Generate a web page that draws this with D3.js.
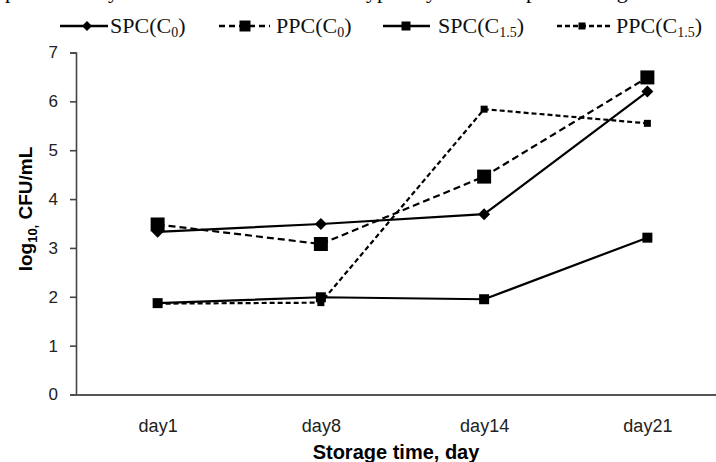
<!DOCTYPE html>
<html>
<head>
<meta charset="utf-8">
<script src="https://cdn.jsdelivr.net/npm/d3@7"></script>
<style>
  html, body { margin: 0; padding: 0; background: #fff; overflow: hidden; }
  svg { display: block; }
</style>
</head>
<body>
<div id="chart"></div>
<script>
// données
const days = ["day1", "day8", "day14", "day21"];
const spcC0 = [3.33, 3.49, 3.69, 6.20];
const ppcC0 = [3.48, 3.08, 4.46, 6.49];
const spcC15 = [1.87, 1.99, 1.95, 3.21];
const ppcC15 = [1.86, 1.88, 5.84, 5.55];
const yTicks = [0, 1, 2, 3, 4, 5, 6, 7];

// fragments du texte coupé au-dessus de la figure
const topWords = [["up", -6], ["by", 97], ["typically", 360], ["upon", 515], ["using", 580]];

const width = 716, height = 462;
const svg = d3.select("#chart").append("svg")
    .attr("width", width)
    .attr("height", height);

// texte du paragraphe (seules les descendantes sont visibles)
svg.append("g").selectAll("text")
    .data(topWords)
    .join("text")
    .attr("x", d => d[1])
    .attr("y", -2.5)
    .style("font-family", "'Liberation Serif', 'Times New Roman', serif")
    .style("font-size", "22px")
    .text(d => d[0]);

// échelles
const x = d3.scalePoint().domain(days).range([76, 729]).padding(0.5);
const y = d3.scaleLinear().domain([0, 7]).range([394.5, 52.5]);

// axe Y
const yAxis = svg.append("g")
    .attr("transform", "translate(76,0)")
    .call(d3.axisLeft(y).tickValues(yTicks).tickSize(6).tickPadding(12).tickFormat(d3.format("d")));
yAxis.selectAll("path, line").attr("stroke", "#444").attr("stroke-width", 1.6);
yAxis.selectAll("text")
    .style("font-family", "'Liberation Sans', Arial, sans-serif")
    .style("font-size", "17px")
    .attr("fill", "#222");

// axe X
const xAxis = svg.append("g")
    .attr("transform", "translate(0,394.5)")
    .call(d3.axisBottom(x).tickSize(0).tickSizeOuter(0).tickPadding(25));
xAxis.select("path").attr("stroke", "#555").attr("stroke-width", 2);
xAxis.selectAll("text")
    .style("font-family", "'Liberation Sans', Arial, sans-serif")
    .style("font-size", "18px")
    .attr("fill", "#222");

// titres des axes
svg.append("text")
    .attr("x", 396)
    .attr("y", 459)
    .attr("text-anchor", "middle")
    .style("font-family", "'Liberation Sans', Arial, sans-serif")
    .style("font-size", "20px")
    .style("font-weight", "bold")
    .text("Storage time, day");

const yLab = svg.append("text")
    .attr("transform", "translate(32,209) rotate(-90)")
    .attr("text-anchor", "middle")
    .style("font-family", "'Liberation Sans', Arial, sans-serif")
    .style("font-size", "19px")
    .style("font-weight", "bold");
yLab.append("tspan").text("log");
yLab.append("tspan").attr("dy", 5).style("font-size", "13px").text("10,");
yLab.append("tspan").attr("dy", -5).text(" CFU/mL");

// séries
const series = [
    { name: "SPC", sub: "0", values: spcC0, dash: null, marker: "diamond", size: 6 },
    { name: "PPC", sub: "0", values: ppcC0, dash: "7,4", marker: "square", size: 7 },
    { name: "SPC", sub: "1.5", values: spcC15, dash: null, marker: "square", size: 5 },
    { name: "PPC", sub: "1.5", values: ppcC15, dash: "5,3", marker: "square", size: 3.5 }
];

function markerPath(type, s) {
    if (type === "diamond") return `M0,${-s}L${s},0L0,${s}L${-s},0Z`;
    return `M${-s},${-s}H${s}V${s}H${-s}Z`;
}

const line = d3.line()
    .x((d, i) => x(days[i]))
    .y(d => y(d));

const plot = svg.append("g");
series.forEach(s => {
    plot.append("path")
        .datum(s.values)
        .attr("d", line)
        .attr("fill", "none")
        .attr("stroke", "#000")
        .attr("stroke-width", 2.2)
        .attr("stroke-dasharray", s.dash);
});
series.forEach(s => {
    plot.selectAll(null)
        .data(s.values)
        .join("path")
        .attr("transform", (d, i) => `translate(${x(days[i])},${y(d)})`)
        .attr("d", markerPath(s.marker, s.size))
        .attr("fill", "#000");
});

// légende
const legendItems = [
    { x0: 60, x1: 108, mx: 87, tx: 110, ms: 5, dash: null },
    { x0: 219, x1: 270, mx: 245, tx: 276, ms: 5.5, dash: "6,4" },
    { x0: 383, x1: 430, mx: 406, tx: 438, ms: 4.5, dash: null },
    { x0: 557, x1: 612, mx: 582, tx: 616, ms: 3.5, dash: "5,3" }
];
const legend = svg.append("g");
series.forEach((s, i) => {
    const it = legendItems[i];
    const g = legend.append("g").attr("transform", "translate(0,26)");
    g.append("line")
        .attr("x1", it.x0).attr("x2", it.x1)
        .attr("stroke", "#000")
        .attr("stroke-width", 2.4)
        .attr("stroke-dasharray", it.dash);
    g.append("path")
        .attr("transform", `translate(${it.mx},0)`)
        .attr("d", markerPath(s.marker, it.ms))
        .attr("fill", "#000");
    const t = g.append("text")
        .attr("x", it.tx)
        .attr("y", 7)
        .style("font-family", "'Liberation Serif', 'Times New Roman', serif")
        .style("font-size", "22px")
        .attr("fill", "#111");
    t.append("tspan").text(s.name + "(C");
    t.append("tspan").attr("dy", 4).style("font-size", "14px").text(s.sub);
    t.append("tspan").attr("dy", -4).text(")");
});
</script>
</body>
</html>
